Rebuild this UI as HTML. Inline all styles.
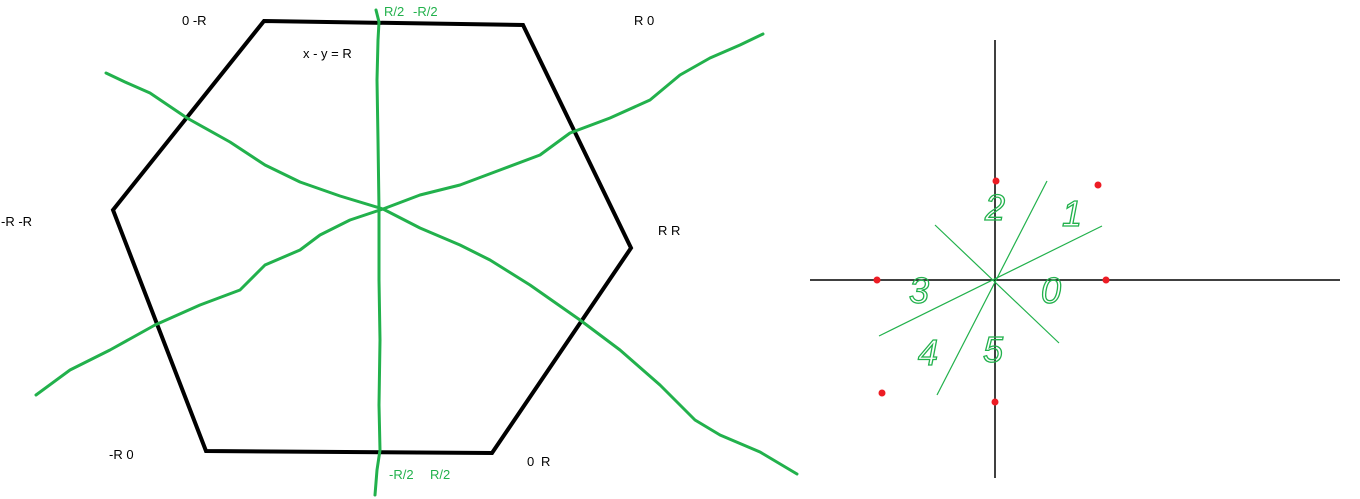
<!DOCTYPE html>
<html><head><meta charset="utf-8"><style>
html,body{margin:0;padding:0;background:#fff;width:1360px;height:499px;overflow:hidden}
svg{display:block}
.lbl{font-family:"Liberation Sans",sans-serif;font-size:13px}
.dig{font-family:"Liberation Sans",sans-serif;font-size:36px;font-style:italic;fill:none;stroke:#22b14c;stroke-width:1.3}
</style></head><body>
<svg width="1360" height="499" viewBox="0 0 1360 499">
<g>
<polygon points="264,21 523,25 631,248 492,453 206,451 113,210" fill="none" stroke="#000" stroke-width="4" stroke-linejoin="miter"/>
</g>
<g fill="none" stroke="#22b14c" stroke-width="3" stroke-linecap="round" stroke-linejoin="round">
<polyline points="376,10 379,22 378,40 377,80 378,140 379,209 379,280 380,340 379,405 380,450 377,470 375,495"/>
<polyline points="106,73 125,82 150,93 187,118 230,142 265,165 300,182 340,196 383,209 420,228 460,245 490,260 530,285 580,320 620,350 660,385 695,420 720,435 760,452 797,474"/>
<polyline points="36,395 70,370 110,350 155,325 200,305 240,290 265,265 300,250 320,235 350,220 383,209 420,195 460,185 500,170 540,155 570,133 610,118 650,100 680,75 710,58 740,45 763,34"/>
</g>
<g fill="#22b14c" class="lbl">
<text class="lbl" x="384" y="16">R/2</text>
<text class="lbl" x="413" y="16">-R/2</text>
<text class="lbl" x="389" y="479">-R/2</text>
<text class="lbl" x="430" y="479">R/2</text>
</g>
<g fill="#000">
<text class="lbl" x="182" y="25">0 -R</text>
<text class="lbl" x="634" y="25">R 0</text>
<text class="lbl" x="303" y="58">x - y = R</text>
<text class="lbl" x="1" y="226">-R -R</text>
<text class="lbl" x="658" y="235">R R</text>
<text class="lbl" x="109" y="459">-R 0</text>
<text class="lbl" x="527" y="466">0</text>
<text class="lbl" x="541" y="466">R</text>
</g>
<g stroke="#000" stroke-width="1.5">
<line x1="810" y1="280" x2="1340" y2="280"/>
<line x1="995" y1="40" x2="995" y2="478"/>
</g>
<g stroke="#22b14c" stroke-width="1.2">
<line x1="1047" y1="181" x2="937" y2="395"/>
<line x1="1102" y1="226" x2="879" y2="336"/>
<line x1="935" y1="225" x2="1059" y2="343"/>
</g>
<g fill="#ed1c24">
<circle cx="996" cy="181" r="3.5"/>
<circle cx="1098" cy="185" r="3.5"/>
<circle cx="877" cy="280" r="3.5"/>
<circle cx="1106" cy="280" r="3.5"/>
<circle cx="882" cy="393" r="3.5"/>
<circle cx="995" cy="402" r="3.5"/>
</g>
<g>
<text class="dig" x="985" y="220">2</text>
<text class="dig" x="1062" y="226">1</text>
<text class="dig" x="909" y="303">3</text>
<text class="dig" x="1041" y="303">0</text>
<text class="dig" x="918" y="365">4</text>
<text class="dig" x="983" y="362">5</text>
</g>
</svg>
</body></html>
